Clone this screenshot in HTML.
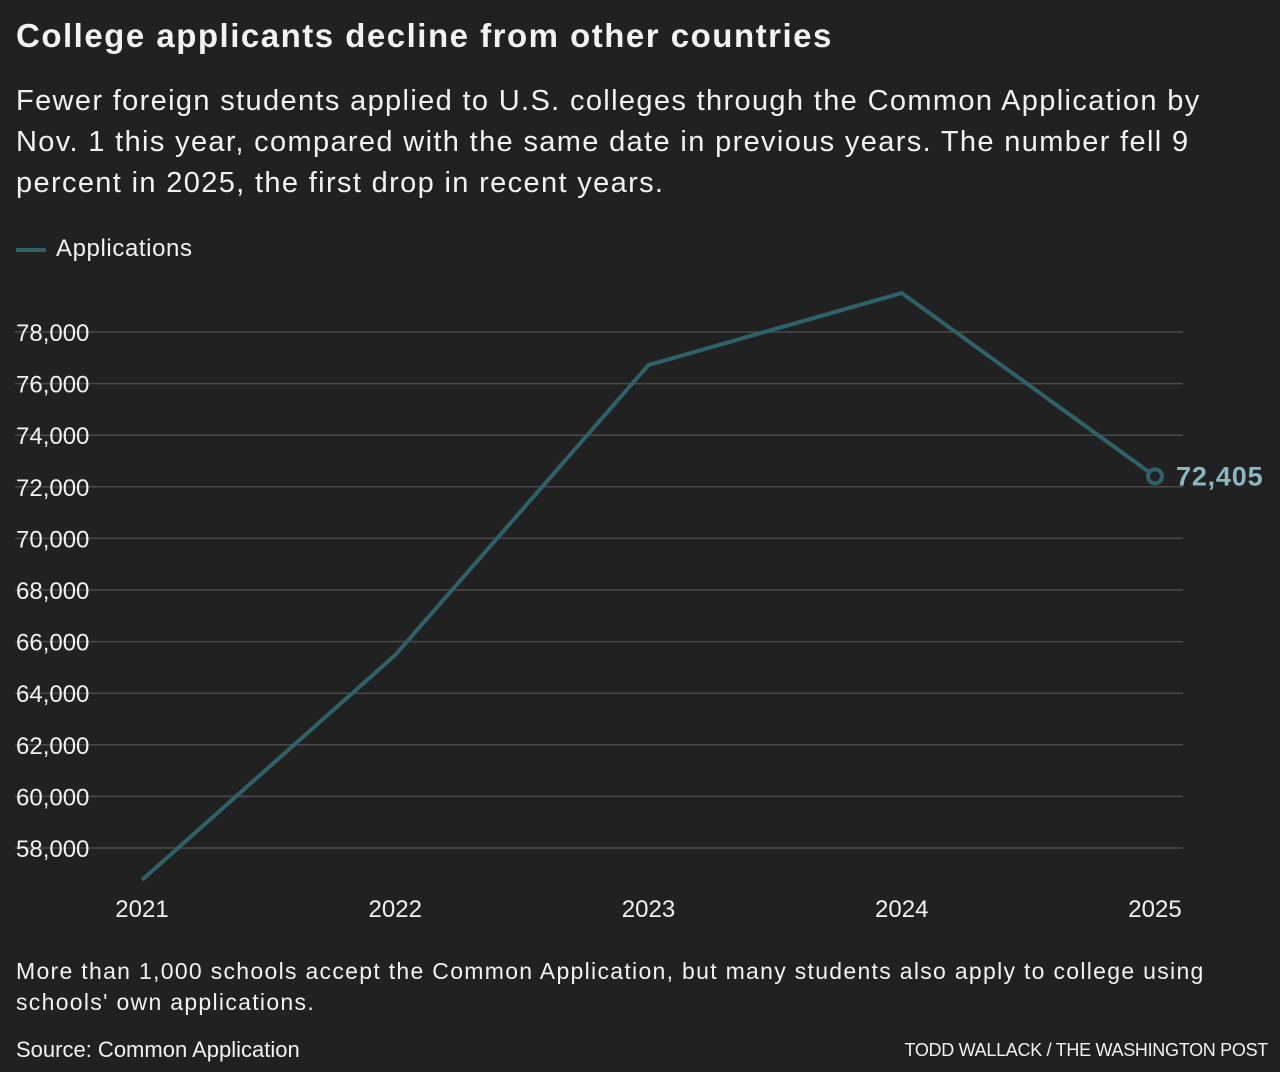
<!DOCTYPE html>
<html><head><meta charset="utf-8"><style>
html,body{margin:0;padding:0;background:#212121;}
body{width:1280px;height:1072px;position:relative;overflow:hidden;font-family:"Liberation Sans",sans-serif;color:#f2f2f2;}
.t{position:absolute;white-space:nowrap;}
</style></head><body>
<div class="t" style="left:16px;top:17px;font-size:33px;font-weight:bold;letter-spacing:1.5px;">College applicants decline from other countries</div>
<div class="t" style="left:16px;top:81px;font-size:29px;line-height:41px;letter-spacing:1.35px;">Fewer foreign students applied to U.S. colleges through the Common Application by<br>Nov. 1 this year, compared with the same date in previous years. The number fell 9<br>percent in 2025, the first drop in recent years.</div>
<div class="t" style="left:16px;top:235px;font-size:24px;letter-spacing:0.6px;">
<span style="display:inline-block;width:30px;height:4px;background:#2e6268;vertical-align:middle;margin-right:10px;"></span>Applications</div>
<svg id="chart" width="1280" height="1072" style="position:absolute;left:0;top:0;"></svg>
<div class="t" style="left:16px;top:956px;font-size:23px;line-height:31px;letter-spacing:1.3px;">More than 1,000 schools accept the Common Application, but many students also apply to college using<br>schools' own applications.</div>
<div class="t" style="left:16px;top:1037px;font-size:22px;">Source: Common Application</div>
<div class="t" style="right:12px;top:1040px;font-size:18px;letter-spacing:-0.3px;">TODD WALLACK / THE WASHINGTON POST</div>
<script>
const years=["2021","2022","2023","2024","2025"];
const applications=[56760,65480,76720,79510,72405];
const yTicks=[58000,60000,62000,64000,66000,68000,70000,72000,74000,76000,78000];
const NS="http://www.w3.org/2000/svg";
const svg=document.getElementById('chart');
const y=v=>848-(v-58000)*(516/20000);
const x=i=>142+i*253.25;
function mk(t,a){const e=document.createElementNS(NS,t);for(const k in a)e.setAttribute(k,a[k]);svg.appendChild(e);return e;}
yTicks.forEach(v=>{
 const g=mk('line',{x1:15,x2:1183,y1:y(v),y2:y(v),stroke:'#4a4a4a','stroke-width':1.5});
 
 
 const t=mk('text',{x:16,y:y(v)+9,fill:'#f2f2f2','font-size':24,'font-family':'Liberation Sans, sans-serif'});
 t.textContent=v.toLocaleString('en-US');
 
 
});
years.forEach((yr,i)=>{
 const t=mk('text',{x:x(i),y:917,fill:'#f2f2f2','font-size':24,'text-anchor':'middle','font-family':'Liberation Sans, sans-serif'});
 t.textContent=yr;
 
 
});
const p=mk('polyline',{points:applications.map((v,i)=>x(i)+','+y(v)).join(' '),fill:'none',stroke:'#2e6268','stroke-width':4,'stroke-linejoin':'round'});


const li=applications.length-1;
const c=mk('circle',{cx:x(li),cy:y(applications[li]),r:7,fill:'#212121',stroke:'#2e6268','stroke-width':4});


const l=mk('text',{x:x(li)+21,y:y(applications[li])+9,fill:'#8ab8c0','font-size':27,'font-weight':'bold','letter-spacing':'0.8','font-family':'Liberation Sans, sans-serif'});
l.textContent=applications[li].toLocaleString('en-US');


</script>
</body></html>
